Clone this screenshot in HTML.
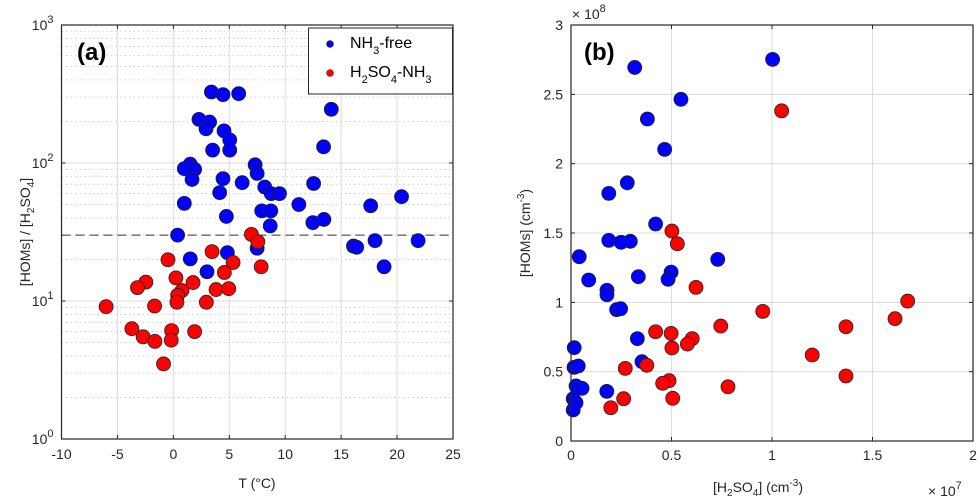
<!DOCTYPE html>
<html><head><meta charset="utf-8"><style>
body{margin:0;background:#fff;}
svg{display:block;font-family:"Liberation Sans",sans-serif;}
</style></head><body>
<svg id="c" width="980" height="504" viewBox="0 0 980 504"></svg>
<script>
const xTicksA=[-10,-5,0,5,10,15,20,25];
const yTicksAExp=[0,1,2,3];
const blueT=[3.4,4.44,5.84,2.29,3.24,2.92,4.53,5.04,3.51,5.04,1.51,0.98,1.9,1.67,4.44,6.15,4.14,0.98,4.74,0.38,1.51,4.83,3.01,7.49,14.12,13.43,7.31,7.49,8.17,8.75,9.49,12.54,11.22,7.9,8.71,8.66,12.47,13.46,17.64,20.4,16.1,16.39,18.03,21.88,18.84];
const blueRatio=[327,313,318,207,198,177,171,147,124,124,98,91,90,76,77,72,61,51,41,30,20.2,22.4,16.3,24.1,245,131,97,84,67,60,60,71,50,45,45,35,37,39,49,57,25,24.5,27.4,27.4,17.7];
const redT=[6.98,7.55,7.85,3.46,-0.48,5.34,4.56,0.23,-2.46,-3.21,1.76,0.77,0.38,3.82,4.95,0.32,2.95,-6.01,-1.68,-3.71,-2.7,-1.65,-0.16,-0.19,1.9,-0.88];
const redRatio=[30.4,26.9,17.7,22.8,19.9,19,16.1,14.7,13.7,12.5,13.6,11.9,11,12.1,12.3,9.8,9.8,9.1,9.2,6.3,5.5,5.1,6.1,5.2,6.0,3.5];
const thresholdRatio=30;
const xTicksB=[0,0.5,1,1.5,2];
const yTicksB=[0,0.5,1,1.5,2,2.5,3];
const blueH2SO4=[0.317,1.003,0.547,0.38,0.466,0.28,0.188,0.421,0.188,0.249,0.295,0.041,0.73,0.088,0.335,0.498,0.483,0.179,0.179,0.227,0.247,0.33,0.016,0.015,0.036,0.353,0.025,0.055,0.178,0.011,0.025,0.011];
const blueHOMs=[2.694,2.752,2.464,2.322,2.103,1.862,1.786,1.565,1.447,1.433,1.44,1.329,1.31,1.161,1.185,1.218,1.166,1.087,1.055,0.947,0.954,0.738,0.673,0.531,0.541,0.572,0.397,0.38,0.358,0.305,0.276,0.224];
const redH2SO4=[1.048,0.502,0.529,0.622,0.954,0.745,0.421,0.498,0.603,0.579,0.502,0.377,0.27,0.488,0.456,0.781,0.262,0.506,0.198,1.675,1.612,1.368,1.2,1.368];
const redHOMs=[2.381,1.514,1.422,1.108,0.935,0.829,0.788,0.776,0.738,0.699,0.671,0.546,0.524,0.435,0.416,0.391,0.305,0.308,0.24,1.009,0.882,0.824,0.62,0.469];

const NS='http://www.w3.org/2000/svg';
const svg=document.getElementById('c');
function mk(tag,attrs,parent,text){const e=document.createElementNS(NS,tag);for(const k in attrs)e.setAttribute(k,attrs[k]);if(text!==undefined)e.textContent=text;(parent||svg).appendChild(e);return e;}

// Panel A geometry
const A={l:61.5,r:453,t:25,b:439};
const xA=v=>A.l+(v+10)/35*(A.r-A.l);
const yA=v=>A.b-(Math.log10(v))/3*(A.b-A.t);
const B={l:571,r:973,t:25,b:441};
const xB=v=>B.l+v/2*(B.r-B.l);
const yB=v=>B.b-v/3*(B.b-B.t);

// Panel A grid
const gA=mk('g',{});

for(let d=0;d<3;d++){for(let m=2;m<10;m++){const y=yA(m*Math.pow(10,d));mk('line',{x1:A.l,x2:A.r,y1:y,y2:y,stroke:'#cfcfcf','stroke-dasharray':'1.5 3','stroke-width':1},gA);}}
yTicksAExp.forEach(e=>{const y=yA(Math.pow(10,e));mk('line',{x1:A.l,x2:A.r,y1:y,y2:y,stroke:'#dcdcdc','stroke-width':1},gA);});
xTicksA.forEach(v=>{const x=xA(v);mk('line',{x1:x,x2:x,y1:A.t,y2:A.b,stroke:'#dcdcdc','stroke-width':1},gA);});
// threshold
const th=mk('line',{x1:A.l,x2:A.r,y1:yA(thresholdRatio),y2:yA(thresholdRatio),stroke:'#333','stroke-dasharray':'9 5','stroke-width':1});


function dots(xs,ys,fx,fy,col,name){const g=mk('g',{});
 xs.forEach((v,i)=>{const c=mk('circle',{cx:fx(v),cy:fy(ys[i]),r:7,fill:col,stroke:'#222','stroke-width':0.8},g);
 
 });}
dots(blueT,blueRatio,xA,yA,'#0000ff','nh3-free-series');
dots(redT,redRatio,xA,yA,'#ff0000','h2so4-nh3-series');

// axes A
const axA=mk('g',{});
mk('rect',{x:A.l,y:A.t,width:A.r-A.l,height:A.b-A.t,fill:'none',stroke:'#262626','stroke-width':1.2},axA);
xTicksA.forEach(v=>{const x=xA(v);mk('line',{x1:x,x2:x,y1:A.b,y2:A.b-4,stroke:'#262626'},axA);mk('line',{x1:x,x2:x,y1:A.t,y2:A.t+4,stroke:'#262626'},axA);
 mk('text',{x:x,y:A.b+20,'text-anchor':'middle','font-size':14,fill:'#262626'},axA,String(v));});
yTicksAExp.forEach(e=>{const y=yA(Math.pow(10,e));mk('line',{x1:A.l,x2:A.l+4,y1:y,y2:y,stroke:'#262626'},axA);mk('line',{x1:A.r,x2:A.r-4,y1:y,y2:y,stroke:'#262626'},axA);
 const t=mk('text',{x:A.l-8,y:y+5,'text-anchor':'end','font-size':14,fill:'#262626'},axA);
 mk('tspan',{},t,'10');mk('tspan',{dy:-7,'font-size':11},t,String(e));});
mk('text',{x:257,y:488,'text-anchor':'middle','font-size':14,fill:'#262626'},axA,'T (°C)');
const yl=mk('text',{transform:'translate(30,232) rotate(-90)','text-anchor':'middle','font-size':14,fill:'#262626'},axA);
mk('tspan',{},yl,'[HOMs] / [H');mk('tspan',{dy:4,'font-size':10},yl,'2');mk('tspan',{dy:-4},yl,'SO');mk('tspan',{dy:4,'font-size':10},yl,'4');mk('tspan',{dy:-4},yl,']');
mk('text',{x:77,y:60,'font-size':24,'font-weight':'bold',fill:'#000'},axA,'(a)');

// legend
const lg=mk('g',{});
mk('rect',{x:308.5,y:28,width:144,height:66,fill:'#fff',stroke:'#262626','stroke-width':1},lg);
mk('circle',{cx:330,cy:44,r:3.5,fill:'#0000ff',stroke:'#222','stroke-width':0.5},lg);
mk('circle',{cx:330,cy:73,r:3.5,fill:'#ff0000',stroke:'#222','stroke-width':0.5},lg);
let t1=mk('text',{x:350,y:48,'font-size':16,fill:'#000'},lg);
mk('tspan',{},t1,'NH');mk('tspan',{dy:6,'font-size':11},t1,'3');mk('tspan',{dy:-6},t1,'-free');
let t2=mk('text',{x:350,y:77,'font-size':16,fill:'#000'},lg);
mk('tspan',{},t2,'H');mk('tspan',{dy:6,'font-size':11},t2,'2');mk('tspan',{dy:-6},t2,'SO');mk('tspan',{dy:6,'font-size':11},t2,'4');mk('tspan',{dy:-6},t2,'-NH');mk('tspan',{dy:6,'font-size':11},t2,'3');

// Panel B grid
const gB=mk('g',{});
xTicksB.forEach(v=>{const x=xB(v);mk('line',{x1:x,x2:x,y1:B.t,y2:B.b,stroke:'#dcdcdc'},gB);});
yTicksB.forEach(v=>{const y=yB(v);mk('line',{x1:B.l,x2:B.r,y1:y,y2:y,stroke:'#dcdcdc'},gB);});
dots(blueH2SO4,blueHOMs,xB,yB,'#0000ff','nh3-free-series-b');
dots(redH2SO4,redHOMs,xB,yB,'#ff0000','h2so4-nh3-series-b');
const axB=mk('g',{});
mk('rect',{x:B.l,y:B.t,width:B.r-B.l,height:B.b-B.t,fill:'none',stroke:'#262626','stroke-width':1.2},axB);
xTicksB.forEach(v=>{const x=xB(v);mk('line',{x1:x,x2:x,y1:B.b,y2:B.b-4,stroke:'#262626'},axB);mk('line',{x1:x,x2:x,y1:B.t,y2:B.t+4,stroke:'#262626'},axB);
 mk('text',{x:x,y:B.b+19,'text-anchor':'middle','font-size':14,fill:'#262626'},axB,String(v));});
yTicksB.forEach(v=>{const y=yB(v);mk('line',{x1:B.l,x2:B.l+4,y1:y,y2:y,stroke:'#262626'},axB);mk('line',{x1:B.r,x2:B.r-4,y1:y,y2:y,stroke:'#262626'},axB);
 mk('text',{x:B.l-8,y:y+5,'text-anchor':'end','font-size':14,fill:'#262626'},axB,String(v));});
let e8=mk('text',{x:572,y:19,'font-size':14,fill:'#262626'},axB);mk('tspan',{},e8,'× 10');mk('tspan',{dy:-7,'font-size':11},e8,'8');
let e7=mk('text',{x:928,y:496,'font-size':14,fill:'#262626'},axB);mk('tspan',{},e7,'× 10');mk('tspan',{dy:-7,'font-size':11},e7,'7');
let xl=mk('text',{x:713,y:492,'font-size':14,fill:'#262626'},axB);
mk('tspan',{},xl,'[H');mk('tspan',{dy:4,'font-size':10},xl,'2');mk('tspan',{dy:-4},xl,'SO');mk('tspan',{dy:4,'font-size':10},xl,'4');mk('tspan',{dy:-4},xl,'] (cm');mk('tspan',{dy:-6,'font-size':10},xl,'-3');mk('tspan',{dy:6},xl,')');
let yl2=mk('text',{transform:'translate(530,233) rotate(-90)','text-anchor':'middle','font-size':14,fill:'#262626'},axB);
mk('tspan',{},yl2,'[HOMs] (cm');mk('tspan',{dy:-6,'font-size':10},yl2,'-3');mk('tspan',{dy:6},yl2,')');
mk('text',{x:584,y:60,'font-size':24,'font-weight':'bold',fill:'#000'},axB,'(b)');
</script>
</body></html>
